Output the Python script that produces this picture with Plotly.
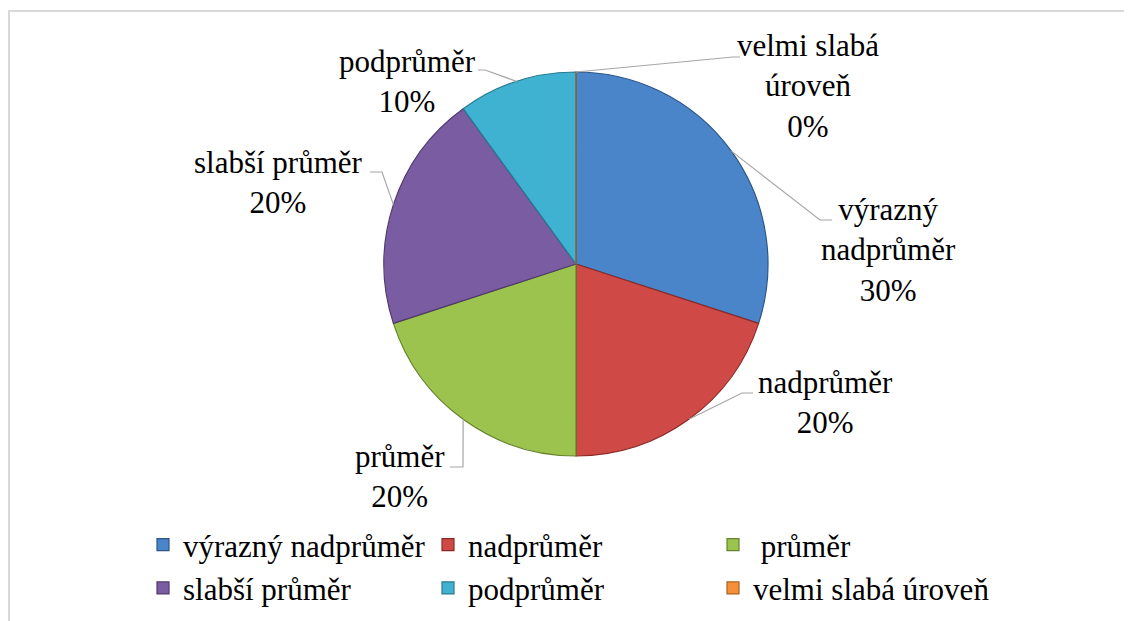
import math
import plotly.graph_objects as go

# ---- data ----
categories = ["výrazný nadprůměr", "nadprůměr", " průměr", "slabší průměr", "podprůměr", "velmi slabá úroveň"]
values = [30, 20, 20, 20, 10, 0]

# ---- styles ----
colors = ["#4a85c9", "#cf4a46", "#9dc34f", "#7a5ca3", "#3fb1d1", "#f5903a"]
edge_colors = ["#2c5688", "#8c2a28", "#66832c", "#4e3a6b", "#267a91", "#b0601f"]
FONT = "Times New Roman"
FS = 31

W, H = 1132, 621
OFF = 8  # page body margin
CX, CY, R = 576, 264, 192


def px(x):
    return (x - OFF) / W


def py(y):
    return 1 - (y - OFF) / H


# label layout (pixel positions of label centre, leader knee and leader end)
label_layout = [
    dict(center=(888, 250), knee=(820, 220), end=(832, 220)),
    dict(center=(825, 402), knee=(742, 393), end=(753, 393)),
    dict(center=(400, 476), knee=(463, 467), end=(450, 467)),
    dict(center=(278, 183), knee=(382, 172), end=(370, 172)),
    dict(center=(407, 82), knee=(485, 70), end=(478, 70)),
    dict(center=(808, 86), knee=(733, 57), end=(740, 57)),
]
label_texts = ["výrazný<br>nadprůměr", "nadprůměr", "průměr", "slabší průměr", "podprůměr", "velmi slabá<br>úroveň"]

fig = go.Figure(
    go.Pie(
        labels=categories,
        values=values,
        sort=False,
        direction="clockwise",
        rotation=0,
        marker=dict(colors=colors, line=dict(color=edge_colors, width=1.2)),
        textinfo="none",
        hoverinfo="skip",
        domain=dict(x=[px(CX - R), px(CX + R)], y=[py(CY + R), py(CY - R)]),
        showlegend=True,
    )
)

total = sum(values)
shapes = []
annotations = []
cum = 0.0
for v, txt, lay in zip(values, label_texts, label_layout):
    mid = (cum + v / 2) / total * 2 * math.pi
    cum += v
    ax = CX + R * math.sin(mid)
    ay = CY - R * math.cos(mid)
    kx, ky = lay["knee"]
    ex, ey = lay["end"]
    shapes.append(dict(
        type="path", xref="paper", yref="paper",
        path=f"M{px(ax)},{py(ay)} L{px(kx)},{py(ky)} L{px(ex)},{py(ey)}",
        line=dict(color="#a6a6a6", width=1.2),
    ))
    pct = f"{round(v / total * 100)}%"
    cx, cy = lay["center"]
    annotations.append(dict(
        x=px(cx), y=py(cy), xref="paper", yref="paper",
        text=f"{txt}<br>{pct}", showarrow=False,
        xanchor="center", yanchor="middle", align="center",
        font=dict(family=FONT, size=FS),
    ))

# chart frame
shapes.append(dict(
    type="rect", xref="paper", yref="paper",
    x0=px(9), y0=py(660), x1=px(1160), y1=py(11),
    line=dict(color="#d9d9d9", width=2), layer="below",
))

fig.update_layout(
    width=W, height=H,
    margin=dict(l=0, r=0, t=0, b=0),
    paper_bgcolor="white",
    plot_bgcolor="white",
    font=dict(family=FONT, color="#000000"),
    shapes=shapes,
    annotations=annotations,
    legend=dict(
        orientation="h",
        x=px(143), y=py(518), xanchor="left", yanchor="top",
        entrywidth=240, entrywidthmode="pixels",
        font=dict(family=FONT, size=FS),
        bgcolor="rgba(0,0,0,0)",
        traceorder="normal",
    ),
)

fig.write_html("out.html")
